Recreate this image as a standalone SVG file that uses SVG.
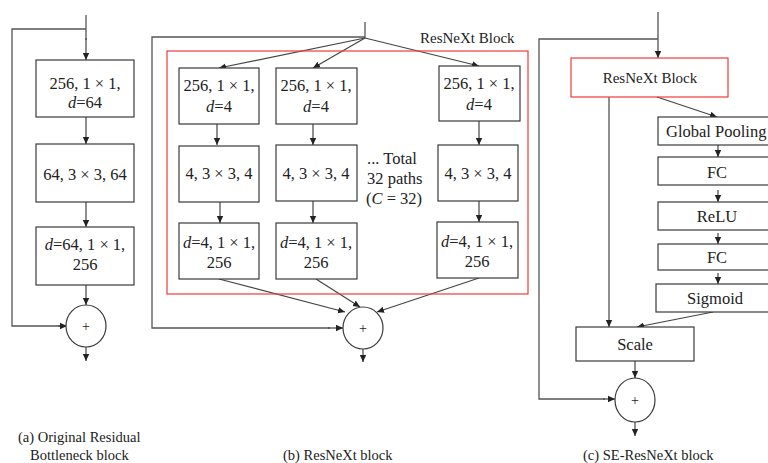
<svg xmlns="http://www.w3.org/2000/svg" width="768" height="463" viewBox="0 0 768 463" font-family="'Liberation Serif', 'Times New Roman', serif">
<style>
text{font-family:"Liberation Serif","Times New Roman",serif;fill:#222}
.box{fill:#fff;stroke:#3a3a3a;stroke-width:1.2}
.red{fill:none;stroke:#ee3b3b;stroke-width:1.2}
.ln{fill:none;stroke:#555;stroke-width:1.3}
.ar{fill:none;stroke:#444;stroke-width:1.2;marker-end:url(#ah)}
.t{font-size:16.5px;text-anchor:middle}
.l{font-size:16.5px;text-anchor:start}
.s{font-size:15px}
.c{font-size:14.5px}
.p{font-size:14px;text-anchor:middle}
</style>
<defs>
<marker id="ah" markerWidth="8" markerHeight="8" refX="7" refY="4" orient="auto" markerUnits="userSpaceOnUse">
<path d="M0,0.8 L7,4 L0,7.2 Z" fill="#222"/>
</marker>
</defs>
<rect width="768" height="463" fill="#fff"/>

<g id="connectors">
<line class="ln" x1="86" y1="15" x2="86" y2="40"/>
<line class="ar" x1="86" y1="38" x2="86" y2="60"/>
<polyline class="ln" points="86,29 12,29 12,326 60,326"/>
<line class="ar" x1="58" y1="326" x2="67" y2="326"/>
<line class="ar" x1="86" y1="117" x2="86" y2="144"/>
<line class="ar" x1="86" y1="202" x2="86" y2="227"/>
<line class="ar" x1="86" y1="285" x2="86" y2="305"/>
<line class="ar" x1="86" y1="347" x2="86" y2="361"/>
<line class="ln" x1="365" y1="22" x2="365" y2="38"/>
<polyline class="ln" points="365,37 152,37 152,328 330,328"/>
<line class="ar" x1="328" y1="328" x2="343" y2="328"/>
<line class="ar" x1="365" y1="38" x2="219" y2="68"/>
<line class="ar" x1="365" y1="38" x2="313" y2="68"/>
<line class="ar" x1="365" y1="38" x2="479" y2="66"/>
<line class="ar" x1="217" y1="124" x2="217" y2="145"/>
<line class="ar" x1="220" y1="202" x2="220" y2="223"/>
<line class="ar" x1="313" y1="124" x2="313" y2="145"/>
<line class="ar" x1="313" y1="201" x2="313" y2="223"/>
<line class="ar" x1="479" y1="121" x2="479" y2="145"/>
<line class="ar" x1="479" y1="201" x2="479" y2="222"/>
<line class="ar" x1="219" y1="279" x2="345" y2="312"/>
<line class="ar" x1="316" y1="279" x2="360" y2="307"/>
<line class="ar" x1="479" y1="278" x2="377" y2="312"/>
<line class="ar" x1="363" y1="349" x2="363" y2="362"/>
<line class="ar" x1="658" y1="12" x2="658" y2="58"/>
<polyline class="ln" points="658,39 539,39 539,399 605,399"/>
<line class="ar" x1="603" y1="399" x2="615" y2="399"/>
<line class="ar" x1="609" y1="97" x2="609" y2="327"/>
<line class="ar" x1="657" y1="97" x2="717" y2="117"/>
<line class="ar" x1="718" y1="145" x2="718" y2="157"/>
<line class="ar" x1="718" y1="190" x2="718" y2="202"/>
<line class="ar" x1="718" y1="233" x2="718" y2="244"/>
<line class="ar" x1="718" y1="273" x2="718" y2="284"/>
<line class="ar" x1="713" y1="312" x2="637" y2="327"/>
<line class="ar" x1="635" y1="361" x2="635" y2="378"/>
<line class="ar" x1="635" y1="422" x2="635" y2="436"/>
</g>

<g id="a1"><rect class="box" x="36" y="60" width="98" height="57"/>
<text class="t" x="85" y="89">256, 1 × 1,</text>
<text class="t" x="85" y="108"><tspan font-style="italic">d</tspan>=64</text></g>
<g id="a2"><rect class="box" x="36" y="144" width="98" height="58"/>
<text class="t" x="85" y="180">64, 3 × 3, 64</text></g>
<g id="a3"><rect class="box" x="36" y="227" width="98" height="58"/>
<text class="t" x="85" y="250"><tspan font-style="italic">d</tspan>=64, 1 × 1,</text>
<text class="t" x="85" y="270">256</text></g>
<g id="a-sum"><ellipse class="box" cx="86" cy="326" rx="20" ry="21"/>
<text class="p" x="86" y="331">+</text></g>

<g id="b-block"><rect class="red" x="167" y="51" width="361" height="243"/>
<text class="s" x="420" y="43">ResNeXt Block</text></g>
<g id="b11"><rect class="box" x="179" y="68" width="80" height="56"/>
<text class="t" x="219" y="91">256, 1 × 1,</text>
<text class="t" x="219" y="112"><tspan font-style="italic">d</tspan>=4</text></g>
<g id="b12"><rect class="box" x="276" y="68" width="81" height="56"/>
<text class="t" x="316" y="91">256, 1 × 1,</text>
<text class="t" x="316" y="112"><tspan font-style="italic">d</tspan>=4</text></g>
<g id="b13"><rect class="box" x="439" y="66" width="81" height="55"/>
<text class="t" x="479" y="89">256, 1 × 1,</text>
<text class="t" x="479" y="110"><tspan font-style="italic">d</tspan>=4</text></g>
<g id="b21"><rect class="box" x="179" y="146" width="80" height="56"/>
<text class="t" x="219" y="179">4, 3 × 3, 4</text></g>
<g id="b22"><rect class="box" x="276" y="145" width="81" height="56"/>
<text class="t" x="316" y="179">4, 3 × 3, 4</text></g>
<g id="b23"><rect class="box" x="438" y="145" width="80" height="56"/>
<text class="t" x="478" y="179">4, 3 × 3, 4</text></g>
<g id="b31"><rect class="box" x="179" y="223" width="80" height="56"/>
<text class="t" x="219" y="248"><tspan font-style="italic">d</tspan>=4, 1 × 1,</text>
<text class="t" x="219" y="268">256</text></g>
<g id="b32"><rect class="box" x="276" y="223" width="81" height="56"/>
<text class="t" x="316" y="248"><tspan font-style="italic">d</tspan>=4, 1 × 1,</text>
<text class="t" x="316" y="268">256</text></g>
<g id="b33"><rect class="box" x="437" y="222" width="81" height="56"/>
<text class="t" x="477" y="247"><tspan font-style="italic">d</tspan>=4, 1 × 1,</text>
<text class="t" x="477" y="267">256</text></g>
<g id="b-note">
<text class="l" x="367" y="164">... Total</text>
<text class="l" x="367" y="184">32 paths</text>
<text class="l" x="366" y="204">(<tspan font-style="italic">C</tspan> = 32)</text></g>
<g id="b-sum"><ellipse class="box" cx="363" cy="328" rx="20" ry="21"/>
<text class="p" x="363" y="333">+</text></g>

<g id="c-resnext"><rect class="red" x="571" y="58" width="157" height="39"/>
<text class="s" x="650" y="83" text-anchor="middle">ResNeXt Block</text></g>
<g id="c-gp"><rect class="box" x="658" y="117" width="115" height="28"/>
<text class="l" x="666" y="137">Global Pooling</text></g>
<g id="c-fc1"><rect class="box" x="658" y="157" width="115" height="28"/>
<text class="t" x="717" y="178">FC</text></g>
<g id="c-relu"><rect class="box" x="658" y="202" width="115" height="28"/>
<text class="t" x="717" y="222">ReLU</text></g>
<g id="c-fc2"><rect class="box" x="658" y="244" width="115" height="26"/>
<text class="t" x="717" y="263">FC</text></g>
<g id="c-sig"><rect class="box" x="656" y="284" width="117" height="28"/>
<text class="t" x="715" y="304">Sigmoid</text></g>
<g id="c-scale"><rect class="box" x="576" y="327" width="118" height="34"/>
<text class="t" x="635" y="350">Scale</text></g>
<g id="c-sum"><ellipse class="box" cx="635" cy="400" rx="20" ry="22"/>
<text class="p" x="635" y="405">+</text></g>

<g id="captions">
<text class="c" x="18" y="442">(a) Original Residual</text>
<text class="c" x="30" y="460">Bottleneck block</text>
<text class="c" x="283" y="460">(b) ResNeXt block</text>
<text class="c" x="583" y="460">(c) SE-ResNeXt block</text>
</g>
</svg>
